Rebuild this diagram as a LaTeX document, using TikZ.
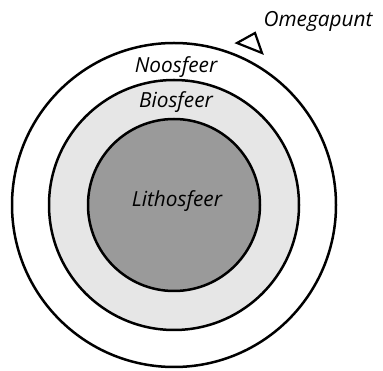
\documentclass[tikz,border=0pt]{standalone}
\usepackage{fontspec}
\setmainfont{Open Sans}
\usepackage{tikz}
\definecolor{biofill}{HTML}{E6E6E6}
\definecolor{lithofill}{HTML}{9A9A9A}

\begin{document}
\begin{tikzpicture}[x=1pt,y=-1pt,
  sphere/.style={circle,draw=black,line width=2.5pt,inner sep=0pt},
  lbl/.style={font=\fontsize{20.8}{24}\selectfont\itshape,inner sep=0pt}]
  \useasboundingbox (0,0) rectangle (383,371);
  \node[sphere,minimum size=324pt] (noos) at (174,205) {};
  \node[sphere,fill=biofill,minimum size=250pt] (bio) at (174,205) {};
  \node[sphere,fill=lithofill,minimum size=172pt] (litho) at (174,205) {};
  \node[lbl] (lithotxt) at (177,201) {Lithosfeer};
  \node[lbl] (biotxt) at (176,102) {Biosfeer};
  \node[lbl] (noostxt) at (176,67) {Noosfeer};
  \node[lbl,anchor=base] (omega) at (318,27) {Omegapunt};
  \draw[line width=2.2pt,line join=miter] (237,43) -- (255,33) -- (262,53) -- cycle;
\end{tikzpicture}
\end{document}
